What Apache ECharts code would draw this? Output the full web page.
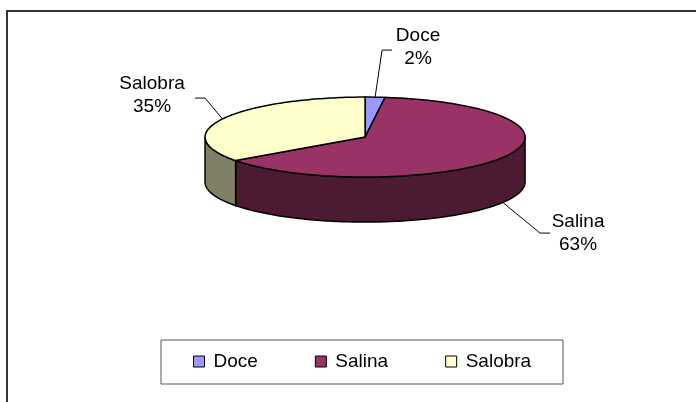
<!DOCTYPE html>
<html>
<head>
<meta charset="utf-8">
<script src="https://cdn.jsdelivr.net/npm/echarts@6/dist/echarts.min.js"></script>
<style>
html, body { margin: 0; padding: 0; background: #fff; }
#chart { width: 696px; height: 402px; }
</style>
</head>
<body>
<div id="chart"></div>
<script>
var categories = ['Doce', 'Salina', 'Salobra'];
var values = [2, 63, 35];
var topColors = ['#9999ff', '#993366', '#ffffcc'];
var sideColors = ['#4d4d80', '#4d1a33', '#808066'];
// label centre and leader elbow, px from the pie centre
var labelOffsets = [[53, -90], [213, 96], [-213, -42]];
var elbowOffsets = [[17, -87], [175, 96], [-160, -39]];

var rx = 160, ry = 40, depth = 45;
var font = '19px "Liberation Sans", Arial, sans-serif';

var total = 0;
for (var k = 0; k < values.length; k++) total += values[k];

function renderSlice(params, api) {
	var i = params.dataIndex;
	var start = 0;
	for (var j = 0; j < i; j++) start += values[j];
	var a0 = start / total * Math.PI * 2;
	var a1 = (start + values[i]) / total * Math.PI * 2;
	var cx = api.getWidth() * 0.5245;
	var cy = api.getHeight() * 0.341;

	function pt(t, dy) {
		return [cx + rx * Math.sin(t), cy - ry * Math.cos(t) + (dy || 0)];
	}
	function arc(from, to, dy) {
		var n = Math.max(2, Math.ceil(Math.abs(to - from) / 0.02));
		var out = [];
		for (var s = 0; s <= n; s++) out.push(pt(from + (to - from) * s / n, dy));
		return out;
	}

	var children = [];
	// front wall
	var s0 = Math.max(a0, Math.PI / 2), s1 = Math.min(a1, Math.PI * 1.5);
	if (s1 > s0) {
		var wall = arc(s0, s1, 0).concat(arc(s1, s0, depth));
		children.push({
			type: 'polygon',
			shape: { points: wall },
			style: { fill: sideColors[i], stroke: '#000', lineWidth: 1.5 }
		});
	}
	// top face
	var topPts = [[cx, cy]].concat(arc(a0, a1, 0));
	children.push({
		type: 'polygon',
		shape: { points: topPts },
		style: { fill: topColors[i], stroke: '#000', lineWidth: 1.5 }
	});

	// label with leader
	var mid = (a0 + a1) / 2;
	var anchor = pt(mid, Math.cos(mid) < 0 ? depth : 0);
	var elbow = [cx + elbowOffsets[i][0], cy + elbowOffsets[i][1]];
	var lab = [cx + labelOffsets[i][0], cy + labelOffsets[i][1]];
	var tail = [elbow[0] + (lab[0] > elbow[0] ? 10 : -10), elbow[1]];
	children.push({
		type: 'polyline',
		shape: { points: [anchor, elbow, tail] },
		style: { stroke: '#000', lineWidth: 1, fill: null }
	});
	var pct = Math.round(values[i] / total * 100) + '%';
	children.push({
		type: 'text',
		x: lab[0],
		y: lab[1],
		style: {
			text: categories[i] + '\n' + pct,
			font: font,
			align: 'center',
			verticalAlign: 'middle',
			lineHeight: 23,
			fill: '#000'
		}
	});
	return { type: 'group', children: children };
}

var series = [{
	type: 'custom',
	coordinateSystem: 'none',
	renderItem: renderSlice,
	data: values
}];
// empty series only to feed the legend
for (var c = 0; c < categories.length; c++) {
	series.push({
		type: 'custom',
		name: categories[c],
		coordinateSystem: 'none',
		renderItem: function () { return null; },
		itemStyle: { color: topColors[c] },
		data: []
	});
}

var chart = echarts.init(document.getElementById('chart'));
chart.setOption({
	animation: false,
	graphic: [{
		type: 'rect',
		shape: { x: 7, y: 11, width: 700, height: 400 },
		style: { fill: null, stroke: '#333', lineWidth: 2 }
	}, {
		type: 'rect',
		shape: { x: 161, y: 340, width: 402, height: 44 },
		style: { fill: null, stroke: '#555', lineWidth: 1 }
	}],
	legend: {
		data: categories,
		left: 193,
		top: 352,
		padding: 0,
		icon: 'rect',
		itemWidth: 11,
		itemHeight: 11,
		itemGap: 57,
		selectedMode: false,
		itemStyle: { borderColor: '#000', borderWidth: 1 },
		textStyle: {
			fontFamily: '"Liberation Sans", Arial, sans-serif',
			fontSize: 19,
			color: '#000',
			padding: [0, 0, 0, 4]
		}
	},
	series: series
});
</script>
</body>
</html>
